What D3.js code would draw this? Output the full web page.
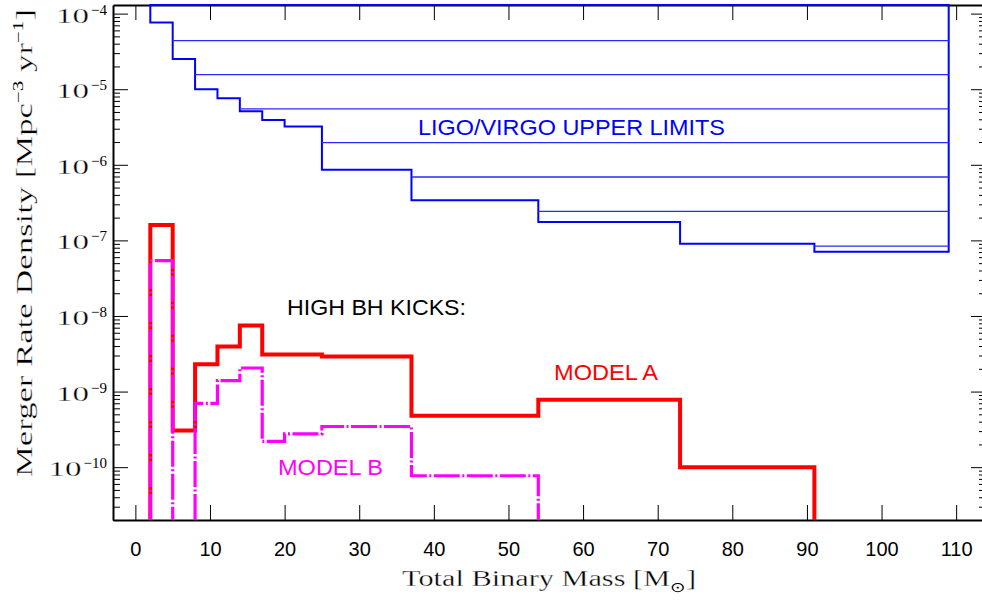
<!DOCTYPE html>
<meta charset="utf-8">
<head>
  <script src="https://d3js.org/d3.v7.min.js"></script>
  <style>
    body { margin: 0; background: #fff; }
    .axis path, .axis line { stroke: #000; }
    .axis text { fill: #000; }
    /* thin the serif glyphs a little, the original uses a hairline font */
    .thin { stroke: #fff; stroke-width: 0.3px; }
  </style>
</head>
<body>
<svg id="chart" width="982" height="600"></svg>
<script>
  // bin edges in total binary mass (Msun)
  var massEdges = [2, 5, 8, 11, 14, 17, 20, 25, 37, 54, 73, 91, 109];
  // LIGO/VIRGO upper limits per bin
  var ligoLimits = [7.6e-5, 2.5e-5, 1.0e-5, 7.6e-6, 5.1e-6, 3.9e-6, 3.2e-6, 8.6e-7, 3.4e-7, 1.75e-7, 9.0e-8, 7.1e-8];
  // horizontal limit levels
  var limitLevels = [4.4e-5, 1.56e-5, 5.5e-6, 1.96e-6, 6.9e-7, 2.42e-7, 8.4e-8];
  // model rates per bin (0 = nothing)
  var modelA = [1.6e-7, 3.05e-10, 2.3e-9, 3.95e-9, 7.5e-9, 3.1e-9, 3.1e-9, 2.9e-9, 4.8e-10, 7.8e-10, 1.0e-10, 0];
  var modelB = [5.4e-8, 0, 7.0e-10, 1.4e-9, 2.05e-9, 2.2e-10, 2.75e-10, 3.45e-10, 7.7e-11, 0, 0, 0];
  var xTicks = [0, 10, 20, 30, 40, 50, 60, 70, 80, 90, 100, 110];
  var yMajor = [1e-10, 1e-9, 1e-8, 1e-7, 1e-6, 1e-5, 1e-4];

  // plot box (window.top is reserved, so no bare "top")
  var pLeft = 113, pRight = 986, pTop = 5, pBottom = 520;
  var serif = "Liberation Serif, Times New Roman, serif";
  var svg = d3.select("#chart");

  var x = d3.scaleLinear().domain([-3, 114]).range([pLeft, pRight]);
  var y = d3.scaleLog().domain([2e-11, 1.3e-4]).range([pBottom, pTop]).clamp(true);

  var yMinor = [];
  for (var e = -11; e <= -5; e++) {
    for (var m = 2; m <= 9; m++) {
      var v = m * Math.pow(10, e);
      if (v >= 2e-11 && v < 1.3e-4) yMinor.push(v);
    }
  }

  // ---------- axes ----------
  svg.append("g").attr("class", "axis")
    .attr("transform", "translate(0," + pBottom + ")")
    .call(d3.axisBottom(x).tickValues(xTicks).tickSizeInner(-15).tickSizeOuter(0).tickPadding(22))
    .call(function(g) {
      g.select(".domain").attr("stroke-width", 2);
      g.selectAll("text").attr("font-family", "Liberation Sans, Arial, sans-serif").attr("font-size", 20);
    });
  svg.append("g").attr("class", "axis")
    .attr("transform", "translate(0," + pTop + ")")
    .call(d3.axisTop(x).tickValues(xTicks).tickSizeInner(-15).tickSizeOuter(0).tickFormat(""))
    .call(function(g) { g.select(".domain").attr("stroke-width", 2); });

  // left axis, labels drawn below as 10^n
  svg.append("g").attr("class", "axis")
    .attr("transform", "translate(" + pLeft + ",0)")
    .call(d3.axisLeft(y).tickValues(yMajor).tickSizeInner(-15).tickSizeOuter(0).tickFormat(""))
    .call(function(g) { g.select(".domain").attr("stroke-width", 2); });
  svg.append("g").attr("class", "axis")
    .attr("transform", "translate(" + pLeft + ",0)")
    .call(d3.axisLeft(y).tickValues(yMinor).tickSizeInner(-7).tickSizeOuter(0).tickFormat(""))
    .call(function(g) { g.select(".domain").remove(); });

  var yLabels = svg.append("g");
  yMajor.forEach(function(d) {
    var ty = y(d);
    var ex = yLabels.append("text")
      .attr("x", 107).attr("y", ty + 1)
      .attr("text-anchor", "end")
      .attr("font-family", serif).attr("font-size", 15)
      .text("\u2212" + Math.round(-Math.log10(d)));
    var w = ex.node().getComputedTextLength();
    yLabels.append("text")
      .attr("class", "thin")
      .attr("x", 107 - w - 2 - 33).attr("y", ty + 9)
      .attr("font-family", serif).attr("font-size", 22)
      .attr("textLength", 33).attr("lengthAdjust", "spacingAndGlyphs")
      .text("10");
  });

  // right axis
  svg.append("g").attr("class", "axis")
    .attr("transform", "translate(" + pRight + ",0)")
    .call(d3.axisRight(y).tickValues(yMajor).tickSizeInner(-15).tickSizeOuter(0).tickFormat(""));
  svg.append("g").attr("class", "axis")
    .attr("transform", "translate(" + pRight + ",0)")
    .call(d3.axisRight(y).tickValues(yMinor).tickSizeInner(-7).tickSizeOuter(0).tickFormat(""))
    .call(function(g) { g.select(".domain").remove(); });

  // ---------- data ----------
  svg.append("clipPath").attr("id", "plotclip")
    .append("rect").attr("x", pLeft).attr("y", 0).attr("width", pRight - pLeft).attr("height", pBottom);
  var plot = svg.append("g").attr("clip-path", "url(#plotclip)");

  function yv(v) { return v > 0 ? y(v) : pBottom; }

  // histogram outline, skipping the empty bins along the floor
  function stepPath(vals) {
    var p = "", pen = false;
    vals.forEach(function(v, i) {
      var x0 = x(massEdges[i]), x1 = x(massEdges[i + 1]);
      if (v > 0) {
        if (!pen) { p += "M" + x0 + "," + pBottom; pen = true; }
        p += "V" + yv(v) + "H" + x1;
      } else if (pen) {
        p += "V" + pBottom; pen = false;
      }
    });
    if (pen) p += "V" + pBottom;
    return p;
  }

  // LIGO staircase, closed along the top of the frame
  var ligo = "M" + x(massEdges[0]) + "," + pTop;
  ligoLimits.forEach(function(v, i) {
    ligo += "V" + y(v) + "H" + x(massEdges[i + 1]);
  });
  ligo += "V" + pTop + "Z";
  plot.append("path")
    .attr("d", ligo)
    .attr("fill", "none")
    .attr("stroke", "#0000ff")
    .attr("stroke-width", 2);

  // horizontal limit levels start where the staircase drops below them
  plot.selectAll(".level")
    .data(limitLevels)
    .enter().append("line")
    .attr("class", "level")
    .attr("x1", function(d) {
      var i = ligoLimits.findIndex(function(v) { return v < d; });
      return x(massEdges[i]);
    })
    .attr("x2", x(massEdges[massEdges.length - 1]))
    .attr("y1", function(d) { return y(d); })
    .attr("y2", function(d) { return y(d); })
    .attr("stroke", "#2a2aff")
    .attr("stroke-width", 1.3);

  plot.append("path")
    .attr("d", stepPath(modelA))
    .attr("fill", "none")
    .attr("stroke", "#ff0000")
    .attr("stroke-width", 4)
    .attr("stroke-linejoin", "miter");

  plot.append("path")
    .attr("d", stepPath(modelB))
    .attr("fill", "none")
    .attr("stroke", "#ff00ff")
    .attr("stroke-width", 3.2)
    .attr("stroke-dasharray", "26,2.5,2,2.5");

  // ---------- labels ----------
  function label(txt, x0, x1, yb, color) {
    svg.append("text")
      .attr("x", x0).attr("y", yb)
      .attr("font-family", "Liberation Sans, Arial, sans-serif")
      .attr("font-size", 22)
      .attr("fill", color)
      .attr("textLength", x1 - x0)
      .attr("lengthAdjust", "spacingAndGlyphs")
      .text(txt);
  }
  label("LIGO/VIRGO UPPER LIMITS", 418, 725, 135, "#0000ff");
  label("HIGH BH KICKS:", 287, 466, 315, "#000");
  label("MODEL A", 554, 658, 380, "#ff0000");
  label("MODEL B", 278, 383, 475, "#ff00ff");

  // axis titles
  var xt = svg.append("text")
    .attr("class", "thin")
    .attr("x", 402).attr("y", 586)
    .attr("font-family", serif)
    .attr("font-size", 23)
    .attr("textLength", 294)
    .attr("lengthAdjust", "spacingAndGlyphs");
  xt.append("tspan").text("Total Binary Mass [M");
  xt.append("tspan").attr("dy", 6).attr("font-size", 14).attr("stroke", "none").text("\u2299");
  xt.append("tspan").attr("dy", -6).text("]");

  var yt = svg.append("text")
    .attr("class", "thin")
    .attr("transform", "translate(32,477) rotate(-90)")
    .attr("font-family", serif)
    .attr("font-size", 23)
    .attr("textLength", 468)
    .attr("lengthAdjust", "spacingAndGlyphs");
  yt.append("tspan").text("Merger Rate Density [Mpc");
  yt.append("tspan").attr("dy", -9).attr("font-size", 14).attr("stroke", "none").text("\u22123");
  yt.append("tspan").attr("dy", 9).text(" yr");
  yt.append("tspan").attr("dy", -9).attr("font-size", 14).attr("stroke", "none").text("\u22121");
  yt.append("tspan").attr("dy", 9).text("]");
</script>
</body>
